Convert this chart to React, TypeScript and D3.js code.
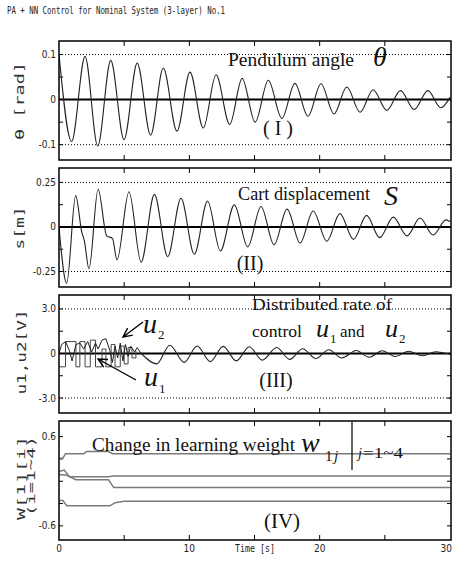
import * as d3 from "d3";

const W = 453;
const H = 562;

const title = "PA + NN Control for Nominal System (3-layer) No.1";
const xTickLabels = [0, 10, 20, 30];
const xTicks = [5, 10, 15, 20, 25];

// extrema [t, value]
const thetaPeaks: [number, number][] = [
  [0, 0.1], [0.97, -0.093], [2.0, 0.096], [2.97, -0.103], [3.97, 0.087], [4.99, -0.089],
  [6.0, 0.081], [7.03, -0.079], [8.0, 0.07], [9.05, -0.07], [10.05, 0.061], [11.07, -0.063],
  [12.05, 0.055], [13.1, -0.055], [14.05, 0.047], [15.05, -0.05], [16.06, 0.043], [17.1, -0.042],
  [18.1, 0.036], [19.1, -0.037], [20.1, 0.035], [21.1, -0.032], [22.08, 0.028], [23.1, -0.028],
  [24.1, 0.022], [25.15, -0.024], [26.2, 0.02], [27.25, -0.022], [28.3, 0.02], [29.3, -0.018],
  [30, 0.005],
];

const cartPeaks: [number, number][] = [
  [0, 0], [0.59, -0.316], [1.28, 0.176], [1.74, -0.026], [1.95, -0.08], [2.3, -0.236],
  [3.0, 0.212], [3.66, -0.05], [4.1, -0.064], [4.45, -0.185], [5.37, 0.198], [6.3, -0.198],
  [7.32, 0.183], [8.34, -0.167], [9.36, 0.161], [10.38, -0.153], [11.4, 0.146], [12.38, -0.135],
  [13.45, 0.124], [14.48, -0.112], [15.5, 0.115], [16.5, -0.1], [17.5, 0.1], [18.5, -0.09],
  [19.5, 0.09], [20.55, -0.08], [21.55, 0.075], [22.6, -0.07], [23.6, 0.065], [24.6, -0.06],
  [25.65, 0.055], [26.7, -0.05], [27.7, 0.05], [28.7, -0.045], [29.7, 0.04], [30, 0.03],
];

const u1Steps: [number, number][] = [
  [0, -0.9], [0.5, 0.8], [1.3, -0.9], [1.6, 0.8], [2.0, -0.9], [2.4, 0.9], [2.8, -0.9],
  [3.3, 0.3], [3.6, -0.9], [4.0, 0.6], [4.3, -0.9], [4.7, 0.5], [5.0, -0.7], [5.3, 0.4],
  [5.6, -0.3], [5.9, 0.2],
];

const u2Jagged: [number, number][] = [
  [0, 0], [0.2, 0.6], [0.5, 0.8], [0.8, 0.2], [1.0, -0.5], [1.3, 0.6], [1.6, 0.7], [1.9, 0.3],
  [2.2, 0.8], [2.5, 0.1], [2.8, 0.7], [3.0, 0.3], [3.3, 0.9], [3.6, 1.0], [3.9, 0.2], [4.1, -0.6],
  [4.3, 0.5], [4.5, -0.3], [4.7, 0.7], [4.9, -0.5], [5.1, 0.6], [5.3, -0.2], [5.5, 0.5],
  [5.8, 0.1], [6.0, 0.4], [6.3, 0.0],
];

const uWave: [number, number][] = [
  [6.3, 0.0], [7.5, -0.7], [8.5, 0.55], [9.6, -0.6], [10.6, 0.5], [11.6, -0.55], [12.6, 0.48],
  [13.6, -0.5], [14.6, 0.45], [15.6, -0.45], [16.7, 0.4], [17.7, -0.4], [18.7, 0.32],
  [19.7, -0.35], [20.7, 0.25], [21.7, -0.3], [22.8, 0.2], [23.8, -0.25], [24.8, 0.18],
  [25.8, -0.2], [26.8, 0.15], [27.9, -0.15], [28.9, 0.12], [30, -0.05],
];

const w1: [number, number][] = [[0, 0.31], [0.3, 0.31], [0.5, 0.37], [1.9, 0.37], [2.1, 0.4], [3.8, 0.4], [4.1, 0.37], [30, 0.37]];
const w2: [number, number][] = [[0, 0.13], [0.4, 0.15], [0.8, 0.06], [3.8, 0.06], [4.1, 0.07], [30, 0.07]];
const w3: [number, number][] = [[0, 0.09], [0.6, 0.08], [1.3, 0.02], [3.8, 0.02], [4.2, -0.085], [30, -0.085]];
const w4: [number, number][] = [[0, -0.26], [0.3, -0.26], [0.6, -0.33], [3.9, -0.33], [4.3, -0.29], [5.0, -0.27], [30, -0.27]];

const x = d3.scaleLinear().domain([0, 30]).range([59, 450]);
const L = 59, R = 451;

const sans = "'Liberation Sans Narrow','DejaVu Sans Condensed','Liberation Sans',sans-serif";
const serif = "'Liberation Serif','Times New Roman',serif";
const mono = "'DejaVu Sans Mono',monospace";

type Panel = {
  top: number; bottom: number; domain: [number, number];
  ticks: number[]; labels: [number, string][]; dotted: number[]; zero: boolean;
};

const panels: Panel[] = [
  { top: 41, bottom: 160, domain: [-0.134, 0.13], ticks: [-0.1, -0.05, 0, 0.05, 0.1], labels: [[0.1, "0.1"], [0, "0"], [-0.1, "-0.1"]], dotted: [0.1, -0.1], zero: true },
  { top: 168, bottom: 287, domain: [-0.337, 0.331], ticks: [-0.25, -0.125, 0, 0.125, 0.25], labels: [[0.25, "0.25"], [0, "0"], [-0.25, "-0.25"]], dotted: [0.25, -0.25], zero: true },
  { top: 295, bottom: 413, domain: [-4.01, 3.94], ticks: [-3, -1.5, 0, 1.5, 3], labels: [[3, "3.0"], [0, "0"], [-3, "-3.0"]], dotted: [3, -3], zero: true },
  { top: 421, bottom: 540, domain: [-0.79, 0.81], ticks: [-0.6, -0.3, 0, 0.3, 0.6], labels: [[0.6, "0.6"], [-0.6, "-0.6"]], dotted: [], zero: false },
];

const ys = panels.map((p) => d3.scaleLinear().domain(p.domain).range([p.bottom, p.top]));

function path(data: [number, number][], y: d3.ScaleLinear<number, number>, curve: d3.CurveFactory) {
  return d3.line<[number, number]>().x((d) => x(d[0])).y((d) => y(d[1])).curve(curve)(data) || "";
}

function arrow(x1: number, y1: number, x2: number, y2: number) {
  const a = Math.atan2(y1 - y2, x1 - x2);
  const h = 10, s = 0.45;
  return `M${x1},${y1}L${x2},${y2}M${x2 + h * Math.cos(a + s)},${y2 + h * Math.sin(a + s)}L${x2},${y2}L${x2 + h * Math.cos(a - s)},${y2 + h * Math.sin(a - s)}`;
}

export default function App() {
  return (
    <svg width={W} height={H} style={{ position: "absolute", left: 0, top: 0, background: "#fff" }}>
      <rect width={W} height={H} fill="#fff" />
      <defs>
        {panels.map((p, i) => (
          <clipPath id={`clip${i}`} key={i}>
            <rect x={L} y={p.top} width={R - L} height={p.bottom - p.top} />
          </clipPath>
        ))}
      </defs>
      <text x={7} y={14} fontFamily={mono} fontSize={10} textLength={218} lengthAdjust="spacingAndGlyphs" fill="#222">{title}</text>

      {panels.map((p, i) => {
        const y = ys[i];
        return (
          <g key={i}>
            {p.dotted.map((v) => (
              <line key={v} x1={L} x2={R} y1={y(v)} y2={y(v)} stroke="#000" strokeWidth={1} strokeDasharray="1,2" />
            ))}
            {p.zero && <line x1={L} x2={R} y1={y(0)} y2={y(0)} stroke="#000" strokeWidth={2} />}
            {xTicks.map((t) => (
              <g key={t}>
                <line x1={x(t)} x2={x(t)} y1={p.top} y2={p.top + 5} stroke="#000" />
                <line x1={x(t)} x2={x(t)} y1={p.bottom} y2={p.bottom - 5} stroke="#000" />
              </g>
            ))}
            {p.ticks.map((v) => (
              <g key={v}>
                <line x1={L} x2={L + 4} y1={y(v)} y2={y(v)} stroke="#000" />
                <line x1={R} x2={R - 4} y1={y(v)} y2={y(v)} stroke="#000" />
              </g>
            ))}
            {p.labels.map(([v, s]) => (
              <text key={s} x={L - 3} y={y(v) + 3.5} textAnchor="end" fontFamily={sans} fontSize={10} fill="#222">{s}</text>
            ))}
          </g>
        );
      })}

      <g clipPath="url(#clip0)" fill="none">
        <path d={path(thetaPeaks, ys[0], d3.curveMonotoneX)} stroke="#222" strokeWidth={1.1} />
      </g>
      <g clipPath="url(#clip1)" fill="none">
        <path d={path(cartPeaks, ys[1], d3.curveMonotoneX)} stroke="#222" strokeWidth={1.1} />
      </g>
      <g clipPath="url(#clip2)" fill="none">
        <path d={path(u1Steps, ys[2], d3.curveStepAfter)} stroke="#444" strokeWidth={1} />
        <path d={path(u2Jagged, ys[2], d3.curveLinear)} stroke="#222" strokeWidth={1} />
        <path d={path(uWave, ys[2], d3.curveMonotoneX)} stroke="#222" strokeWidth={1.1} />
      </g>
      <g clipPath="url(#clip3)" fill="none">
        {[w1, w2, w3, w4].map((w, i) => (
          <path key={i} d={path(w, ys[3], d3.curveLinear)} stroke="#7a7a7a" strokeWidth={1.5} />
        ))}
      </g>

      {panels.map((p, i) => (
        <rect key={i} x={L} y={p.top} width={R - L} height={p.bottom - p.top} fill="none" stroke="#000" strokeWidth={1.5} />
      ))}

      {xTickLabels.map((t) => (
        <text key={t} x={t === 30 ? 452 : x(t)} y={552} textAnchor={t === 30 ? "end" : "middle"} fontFamily={sans} fontSize={10} fill="#222">{t}</text>
      ))}
      <text x={255} y={552} textAnchor="middle" fontFamily={mono} fontSize={10} textLength={40} lengthAdjust="spacingAndGlyphs" fill="#222">Time [s]</text>

      {/* y axis titles */}
      <text transform="translate(24,101) rotate(-90)" textAnchor="middle" fontFamily={mono} fontSize={12} textLength={78} lengthAdjust="spacingAndGlyphs" fill="#333">θ [rad]</text>
      <text transform="translate(24,228) rotate(-90)" textAnchor="middle" fontFamily={mono} fontSize={12} textLength={43} lengthAdjust="spacingAndGlyphs" fill="#333">s[m]</text>
      <text transform="translate(26,352) rotate(-90)" textAnchor="middle" fontFamily={mono} fontSize={12} textLength={85} lengthAdjust="spacingAndGlyphs" fill="#333">u1,u2[V]</text>
      <text transform="translate(25,478) rotate(-90)" textAnchor="middle" fontFamily={mono} fontSize={11} textLength={84} lengthAdjust="spacingAndGlyphs" fill="#333">W[1][i]</text>
      <text transform="translate(35,476) rotate(-90)" textAnchor="middle" fontFamily={mono} fontSize={11} textLength={80} lengthAdjust="spacingAndGlyphs" fill="#333">(i=1~4)</text>

      {/* annotations */}
      <g fontFamily={serif} fill="#111">
        <text x={228} y={66} fontSize={18} textLength={126} lengthAdjust="spacingAndGlyphs">Pendulum angle</text>
        <text x={373} y={66} fontSize={28} fontStyle="italic">θ</text>
        <text x={278} y={135} fontSize={20} textAnchor="middle">( I )</text>

        <text x={238} y={200} fontSize={18} textLength={132} lengthAdjust="spacingAndGlyphs">Cart displacement</text>
        <text x={384} y={205} fontSize={28} fontStyle="italic">S</text>
        <text x={250} y={270} fontSize={20} textAnchor="middle">(II)</text>

        <text x={252} y={310} fontSize={17} textLength={140} lengthAdjust="spacingAndGlyphs">Distributed rate of</text>
        <text x={252} y={337} fontSize={17} textLength={50} lengthAdjust="spacingAndGlyphs">control</text>
        <text x={316} y={337} fontSize={26} fontStyle="italic">u</text>
        <text x={330} y={343} fontSize={13}>1</text>
        <text x={340} y={337} fontSize={17}>and</text>
        <text x={385} y={337} fontSize={26} fontStyle="italic">u</text>
        <text x={399} y={343} fontSize={13}>2</text>
        <text x={276} y={387} fontSize={20} textAnchor="middle">(III)</text>

        <text x={143} y={333} fontSize={28} fontStyle="italic">u</text>
        <text x={158} y={339} fontSize={13}>2</text>
        <text x={144} y={386} fontSize={28} fontStyle="italic">u</text>
        <text x={159} y={393} fontSize={13}>1</text>

        <text x={92} y={451} fontSize={19} textLength={203} lengthAdjust="spacingAndGlyphs">Change in learning weight</text>
        <text x={301} y={452} fontSize={28} fontStyle="italic">w</text>
        <text x={325} y={461} fontSize={15}>1</text>
        <text x={334} y={461} fontSize={15} fontStyle="italic">j</text>
        <text x={358} y={458} fontSize={14} fontStyle="italic">j</text>
        <text x={363} y={458} fontSize={14} textLength={40} lengthAdjust="spacingAndGlyphs">=1~4</text>
        <text x={282} y={528} fontSize={21} textAnchor="middle">(IV)</text>
      </g>
      <line x1={352} x2={352} y1={422} y2={470} stroke="#000" strokeWidth={1.2} />

      <g fill="none" stroke="#000" strokeWidth={1.4}>
        <path d={arrow(143, 322, 123, 337)} />
        <path d={arrow(136, 380, 98, 359)} />
      </g>
    </svg>
  );
}
